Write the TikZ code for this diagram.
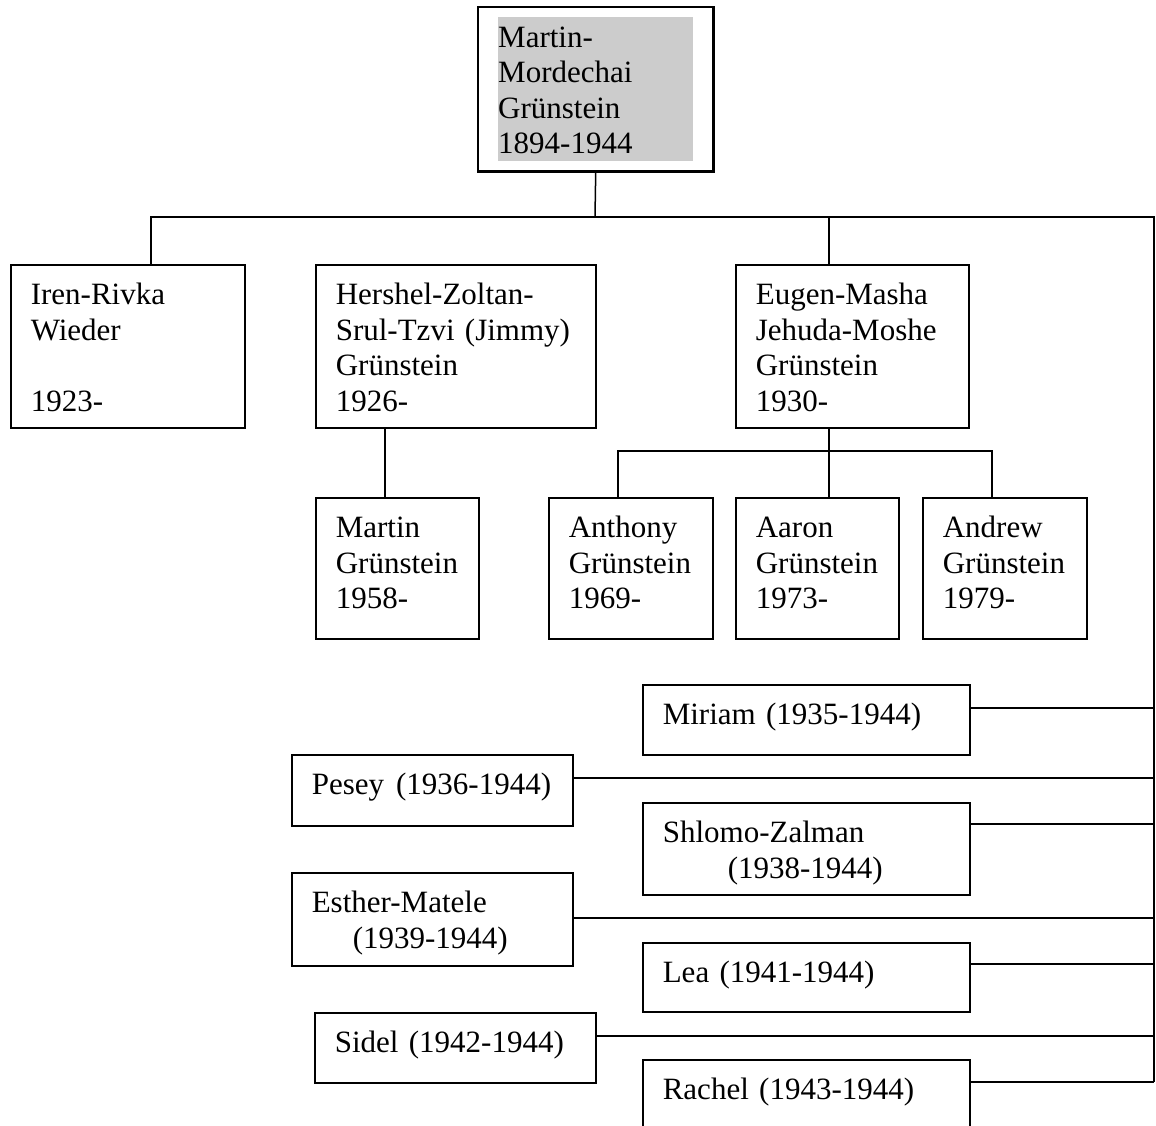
\documentclass[tikz,border=0pt]{standalone}
\usepackage{fontspec}
\setmainfont{Liberation Serif}
\usetikzlibrary{fit}

\definecolor{rootgray}{HTML}{CCCCCC}
\newcommand{\famfont}{\fontsize{31}{35.5}\selectfont}

% name, left, top, width, height, text
\newcommand{\Person}[6]{
    \node[person, text width={#4pt-40pt}, text depth={#5pt-40pt}] (#1) at (#2,#3) {#6};
}

\begin{document}
\begin{tikzpicture}[
  x=1pt, y=-1pt,
  person/.style={draw, line width=1.6pt, anchor=north west, align=left,
    inner xsep=20pt, inner ysep=0pt, text height=40pt, font=\famfont},
  kin/.style={line width=1.5pt}
  ]
  \path[use as bounding box, fill=white] (0,0) rectangle (1156,1126);

  % head of the family
  \node[fill=rootgray, anchor=north west, align=left, inner sep=0pt,
    text width=195pt, text height=30pt, text depth=114pt, font=\famfont]
    (rootname) at (498,17) {Martin-\\Mordechai\\Grünstein\\1894-1944};
  \node[draw, line width=2.6pt, fit=(rootname), inner xsep=20pt, inner ysep=10pt] (root) {};

  % children and grandchildren
  \Person{iren}{10}{264}{234}{163}{Iren-Rivka\\Wieder\\\mbox{}\\1923-}
  \Person{hershel}{315}{264}{280}{163}{Hershel-Zoltan-\\Srul-Tzvi (Jimmy)\\Grünstein\\1926-}
  \Person{eugen}{735}{264}{233}{163}{Eugen-Masha\\Jehuda-Moshe\\Grünstein\\1930-}
  \Person{martin}{315}{497}{163}{141}{Martin\\Grünstein\\1958-}
  \Person{anthony}{548}{497}{164}{141}{Anthony\\Grünstein\\1969-}
  \Person{aaron}{735}{497}{163}{141}{Aaron\\Grünstein\\1973-}
  \Person{andrew}{922}{497}{164}{141}{Andrew\\Grünstein\\1979-}

  % the children who died in 1944
  \Person{miriam}{642}{684}{327}{70}{Miriam (1935-1944)}
  \Person{pesey}{291}{754}{281}{71}{\mbox{Pesey\hspace{12pt}(1936-1944)}}
  \Person{shlomo}{642}{802}{327}{92}{Shlomo-Zalman\\\hspace*{65pt}(1938-1944)}
  \Person{esther}{291}{872}{281}{93}{Esther-Matele\\\hspace*{41pt}(1939-1944)}
  \Person{lea}{642}{942}{327}{69}{Lea (1941-1944)}
  \Person{sidel}{314}{1012}{281}{70}{Sidel (1942-1944)}
  \Person{rachel}{642}{1059}{327}{70}{Rachel (1943-1944)}

  % connectors
  \coordinate (bus) at (595,217);
  \coordinate (trunk) at (1154,217);
  \coordinate (trunkEnd) at (1154,1082);
  \coordinate (irenDrop) at (151,217);
  \coordinate (eugenDrop) at (829,217);
  \coordinate (jimmyDrop) at (385,460);
  \coordinate (forkL) at (618,451);
  \coordinate (forkR) at (992,451);

  \draw[kin] (root.south) -- (bus);
  \draw[kin] (irenDrop |- iren.north) -- (irenDrop) -- (trunk) -- (trunkEnd);
  \draw[kin] (eugenDrop) -- (eugenDrop |- eugen.north);
  \draw[kin] (jimmyDrop |- hershel.south) -- (jimmyDrop |- martin.north);
  \draw[kin] (eugenDrop |- eugen.south) -- (eugenDrop |- aaron.north);
  \draw[kin] (forkL |- anthony.north) -- (forkL) -- (forkR) -- (forkR |- andrew.north);
  \foreach \kid/\y in {miriam/708, pesey/778, shlomo/824, esther/918, lea/964, sidel/1036, rachel/1082}
    \draw[kin] (\kid.east |- 0,\y) -- (trunk |- 0,\y);
\end{tikzpicture}
\end{document}
